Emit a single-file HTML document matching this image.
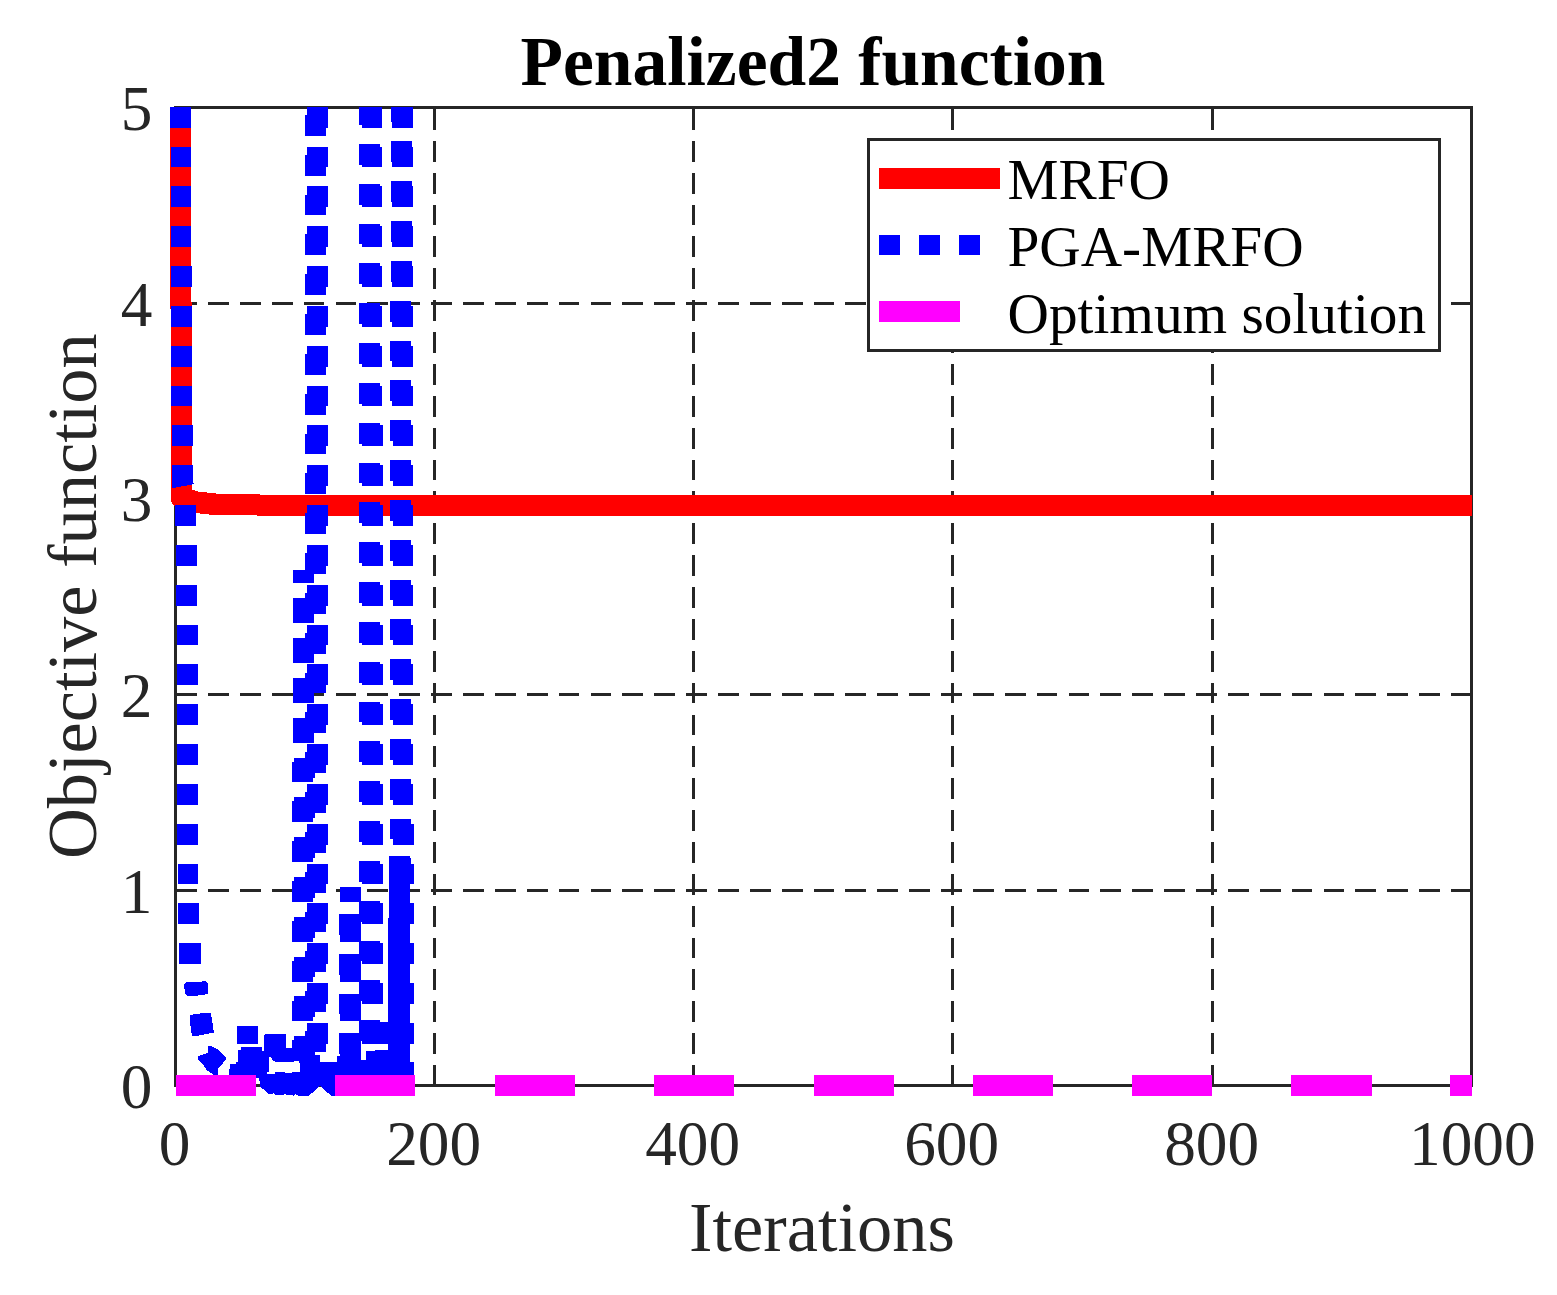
<!DOCTYPE html>
<html lang="en"><head><meta charset="utf-8"><title>Penalized2 function</title>
<style>html,body{margin:0;padding:0;background:#fff}svg{display:block}text{font-family:"Liberation Serif",serif}</style>
</head><body>
<svg width="1557" height="1295" viewBox="0 0 1557 1295">
<rect width="1557" height="1295" fill="#fff"/>
<g stroke="#262626" stroke-width="3" fill="none" shape-rendering="crispEdges">
<line x1="434.5" y1="109.0" x2="434.5" y2="1085.5" stroke-dasharray="20.8 11.07"/>
<line x1="693.5" y1="109.0" x2="693.5" y2="1085.5" stroke-dasharray="20.8 11.07"/>
<line x1="952.5" y1="109.0" x2="952.5" y2="1085.5" stroke-dasharray="20.8 11.07"/>
<line x1="1212.5" y1="109.0" x2="1212.5" y2="1085.5" stroke-dasharray="20.8 11.07"/>
<line x1="176.2" y1="890.5" x2="1471.5" y2="890.5" stroke-dasharray="20.8 11.07"/>
<line x1="176.2" y1="694.5" x2="1471.5" y2="694.5" stroke-dasharray="20.8 11.07"/>
<line x1="176.2" y1="499.5" x2="1471.5" y2="499.5" stroke-dasharray="20.8 11.07"/>
<line x1="176.2" y1="303.5" x2="1471.5" y2="303.5" stroke-dasharray="20.8 11.07"/>
</g>
<g stroke="#262626" stroke-width="3" fill="none" shape-rendering="crispEdges">
<rect x="175.5" y="107.5" width="1296.0" height="978.0"/>
<line x1="434.5" y1="1085.5" x2="434.5" y2="1072.5"/>
<line x1="434.5" y1="107.5" x2="434.5" y2="120.5"/>
<line x1="693.5" y1="1085.5" x2="693.5" y2="1072.5"/>
<line x1="693.5" y1="107.5" x2="693.5" y2="120.5"/>
<line x1="952.5" y1="1085.5" x2="952.5" y2="1072.5"/>
<line x1="952.5" y1="107.5" x2="952.5" y2="120.5"/>
<line x1="1212.5" y1="1085.5" x2="1212.5" y2="1072.5"/>
<line x1="1212.5" y1="107.5" x2="1212.5" y2="120.5"/>
<line x1="175.5" y1="890.5" x2="188.5" y2="890.5"/>
<line x1="1471.5" y1="890.5" x2="1458.5" y2="890.5"/>
<line x1="175.5" y1="694.5" x2="188.5" y2="694.5"/>
<line x1="1471.5" y1="694.5" x2="1458.5" y2="694.5"/>
<line x1="175.5" y1="499.5" x2="188.5" y2="499.5"/>
<line x1="1471.5" y1="499.5" x2="1458.5" y2="499.5"/>
<line x1="175.5" y1="303.5" x2="188.5" y2="303.5"/>
<line x1="1471.5" y1="303.5" x2="1458.5" y2="303.5"/>
</g>
<defs><clipPath id="pc"><rect x="0" y="107" width="1557" height="1200"/></clipPath></defs>
<g clip-path="url(#pc)" fill="none" stroke-linejoin="miter" stroke-linecap="butt">
<path d="M170 107L171 500.8L172 503.7L174.5 505.6L196 513L204.4 514L213 515H257V516H1472V495H260V494H216V493H206.8V492H198V491H194.7V490H192L191 107Z" fill="#ff0000" stroke="none" shape-rendering="crispEdges"/>
<path d="M170 107H191V128H170ZM171 147H191V167H171ZM171 186H191V207H171ZM171 226H191V247H171ZM171 266H192V287H171ZM171 306H192V327H171ZM171 346H192V367H171ZM171 386H192V406H171ZM172 425H193V446H172ZM175 505H196V526H175ZM176 545H197V566H176ZM176 585H197V606H176ZM177 625H198V645H177ZM177 664H198V685H177ZM177 704H198V725H177ZM177 744H198V765H177ZM177 784H198V805H177ZM177 824H198V845H177ZM178 864H198V884H178ZM178 903H199V924H178ZM179 943H201V964H179ZM307 107H328V128H307ZM307 147H328V167H307ZM307 186H328V207H307ZM307 226H328V247H307ZM307 266H328V287H307ZM307 306H328V327H307ZM307 346H328V367H307ZM307 386H328V406H307ZM307 425H328V446H307ZM307 465H328V486H307ZM307 505H328V526H307ZM307 545H328V566H307ZM307 585H328V606H307ZM307 625H328V645H307ZM307 664H328V685H307ZM307 704H328V725H307ZM307 744H328V765H307ZM307 784H328V805H307ZM307 824H328V845H307ZM307 864H328V884H307ZM307 903H328V924H307ZM307 943H328V964H307ZM307 983H328V1004H307ZM307 1023H328V1044H307ZM307 1063H328V1075H307ZM305 115H326V136H305ZM305 155H326V176H305ZM305 195H326V215H305ZM305 234H326V255H305ZM305 274H326V295H305ZM305 314H326V335H305ZM305 354H326V375H305ZM305 394H326V415H305ZM305 434H326V454H305ZM305 473H326V494H305ZM305 513H326V534H305ZM305 553H326V574H305ZM305 593H326V614H305ZM305 633H326V654H305ZM305 673H326V693H305ZM305 712H326V733H305ZM305 752H326V773H305ZM305 792H326V813H305ZM305 832H326V853H305ZM305 872H326V893H305ZM305 912H326V932H305ZM305 951H326V972H305ZM305 991H326V1012H305ZM305 1031H326V1052H305ZM305 1071H326V1075H305ZM293 570H314V579H293ZM293 598H314V619H293ZM293 638H314V659H293ZM293 678H314V699H293ZM293 718H314V739H293ZM294 758H315V778H294ZM294 797H315V818H294ZM294 837H315V858H294ZM294 877H315V898H294ZM294 917H315V938H294ZM294 957H315V977H294ZM294 996H315V1017H294ZM294 1036H315V1057H294ZM293 570H314V583H293ZM293 602H314V623H293ZM293 642H314V663H293ZM293 682H314V703H293ZM293 722H314V743H293ZM292 762H313V782H292ZM292 801H313V822H292ZM292 841H313V862H292ZM292 881H313V902H292ZM292 921H313V942H292ZM292 961H313V982H292ZM292 1001H313V1021H292ZM292 1040H313V1061H292ZM339 914H360V935H339ZM339 954H360V975H339ZM339 994H360V1014H339ZM339 1033H360V1054H339ZM339 1073H360V1075H339ZM340 887H361V902H340ZM340 921H361V942H340ZM340 961H361V982H340ZM340 1001H361V1021H340ZM340 1040H361V1061H340ZM359 107H380V125H359ZM359 144H380V165H359ZM359 184H380V205H359ZM359 224H380V244H359ZM359 263H380V284H359ZM359 303H380V324H359ZM359 343H380V364H359ZM359 383H380V404H359ZM359 423H380V444H359ZM359 463H380V483H359ZM359 502H380V523H359ZM359 542H380V563H359ZM359 582H380V603H359ZM359 622H380V643H359ZM359 662H380V683H359ZM359 702H380V722H359ZM359 741H380V762H359ZM359 781H380V802H359ZM359 821H380V842H359ZM359 861H380V882H359ZM359 901H380V922H359ZM359 941H380V961H359ZM359 980H380V1001H359ZM359 1020H380V1041H359ZM359 1060H380V1075H359ZM362 107H382V128H362ZM362 147H382V167H362ZM362 186H382V207H362ZM362 226H382V247H362ZM362 266H382V287H362ZM362 306H382V327H362ZM362 346H382V367H362ZM362 386H382V406H362ZM362 425H383V446H362ZM362 465H383V486H362ZM362 505H383V526H362ZM362 545H383V566H362ZM362 585H383V606H362ZM362 625H383V645H362ZM362 664H383V685H362ZM362 704H383V725H362ZM362 744H383V765H362ZM362 784H383V805H362ZM362 824H383V845H362ZM362 864H383V884H362ZM362 903H383V924H362ZM362 943H383V964H362ZM362 983H383V1004H362ZM362 1023H383V1044H362ZM362 1063H383V1075H362ZM391 107H412V122H391ZM391 141H412V162H391ZM391 181H412V202H391ZM391 221H412V242H391ZM391 261H412V282H391ZM390 301H411V322H390ZM390 341H411V361H390ZM390 380H411V401H390ZM390 420H411V441H390ZM390 460H411V481H390ZM390 500H411V521H390ZM390 540H411V561H390ZM390 580H411V600H390ZM390 619H411V640H390ZM390 659H411V680H390ZM390 699H411V720H390ZM390 739H411V760H390ZM390 779H411V800H390ZM390 819H411V839H390ZM390 858H411V870H390ZM392 107H413V128H392ZM392 147H413V167H392ZM392 186H413V207H392ZM392 226H413V247H392ZM392 266H413V287H392ZM392 306H413V327H392ZM392 346H413V367H392ZM392 386H413V406H392ZM393 425H413V446H393ZM393 465H413V486H393ZM393 505H413V526H393ZM393 545H413V566H393ZM393 585H413V606H393ZM393 625H413V645H393ZM393 664H413V685H393ZM393 704H413V725H393ZM393 744H413V765H393ZM393 784H413V805H393ZM393 824H414V845H393ZM393 864H414V884H393ZM393 903H414V924H393ZM393 943H414V964H393ZM393 983H414V1004H393ZM393 1023H414V1044H393ZM393 1063H414V1075H393ZM172 465L193 465L193 483.6L194 483.4L194 484.2L173 488L172 488ZM184 984L187 982L198 982L205 981L208 984L208 994L196 995.8L187 995.8L185 993ZM190 1015L203.3 1013L211 1013L212 1020.4L214 1032.6L198 1035.8L192 1035.8L190.75 1029L190 1020.4ZM198 1056L208 1052.7L208 1046L211.5 1046L217.3 1049L226 1057.5L226 1059.5L217.8 1069L217.8 1075L214 1075L206.2 1069.6L203.3 1064.8L198 1059.5ZM237 1026L258 1026L258 1044L237 1044ZM389 856L410 856L410 1075L388 1075L388 918L389 918ZM380 1022L389 1022L389 1044L380 1044Z" fill="#0000ff" stroke="none" shape-rendering="crispEdges"/>
<path d="M229 1090L229 1075L230 1064L236 1064L236 1062L238 1062L238 1050L241 1050L241 1047L262 1047L262 1051L264 1051L264 1036L265 1034L286 1034L286 1048L292 1048L292 1055L320 1055L320 1062L337 1062L337 1056L341 1056L341 1060L366 1060L366 1051L375 1051L375 1050L389 1050L389 1062L414 1062L414 1096L331.5 1096L320 1086L308.5 1096L298.4 1096L295.5 1094L293.1 1096L292.1 1095L286.3 1095L284.9 1094L283.9 1095L275.2 1095L273.8 1093L272.8 1094L268.5 1094L260.3 1086.5L260.3 1084L258.8 1078L250 1078L250 1090ZM269 1057L271 1057L273 1060.7L277 1062L293.6 1062L294.5 1061L299 1061L300 1065L300 1072L292 1072L291 1073L285.3 1073L284.4 1072L275.7 1072L274.7 1073.5L267 1074L267 1072.5L269 1072Z" fill="#0000ff" fill-rule="evenodd" stroke="none" shape-rendering="crispEdges"/>
<path d="M176 1075H256V1096H176ZM335 1075H415V1096H335ZM495 1075H575V1096H495ZM654 1075H734V1096H654ZM814 1075H894V1096H814ZM973 1075H1053V1096H973ZM1132 1075H1212V1096H1132ZM1291 1075H1372V1096H1291ZM1450 1075H1472V1096H1450Z" fill="#ff00ff" stroke="none" shape-rendering="crispEdges"/>
</g>
<rect x="868.5" y="139.5" width="571" height="210.6" shape-rendering="crispEdges" fill="#fff" stroke="#262626" stroke-width="3"/>
<path d="M879 168H1000V189H879Z" fill="#ff0000" shape-rendering="crispEdges"/>
<path d="M879 235h21v20h-21zM919 235h21v20h-21zM959 235h21v20h-21z" fill="#0000ff" shape-rendering="crispEdges"/>
<path d="M879 301H960V322H879Z" fill="#ff00ff" shape-rendering="crispEdges"/>
<g font-size="57.3" fill="#000">
<text x="1007.5" y="199">MRFO</text>
<text x="1007.5" y="266">PGA-MRFO</text>
<text x="1007.5" y="332.7">Optimum solution</text>
</g>
<text x="813" y="84.5" text-anchor="middle" font-size="69.5" font-weight="bold" fill="#000">Penalized2 function</text>
<g font-size="63.3" fill="#262626" text-anchor="middle">
<text x="174.7" y="1165">0</text>
<text x="433.7" y="1165">200</text>
<text x="692.7" y="1165">400</text>
<text x="951.7" y="1165">600</text>
<text x="1211.7" y="1165">800</text>
<text x="1472.3" y="1165">1000</text>
</g>
<g font-size="63.3" fill="#262626" text-anchor="end">
<text x="152.5" y="1108.1">0</text>
<text x="152.5" y="912.5">1</text>
<text x="152.5" y="716.9">2</text>
<text x="152.5" y="521.3">3</text>
<text x="152.5" y="325.7">4</text>
<text x="152.5" y="130.1">5</text>
</g>
<text x="822" y="1251" text-anchor="middle" font-size="70.4" fill="#262626">Iterations</text>
<text transform="translate(96.4 596.2) rotate(-90)" text-anchor="middle" font-size="70.4" fill="#262626">Objective function</text>
</svg>
</body></html>
